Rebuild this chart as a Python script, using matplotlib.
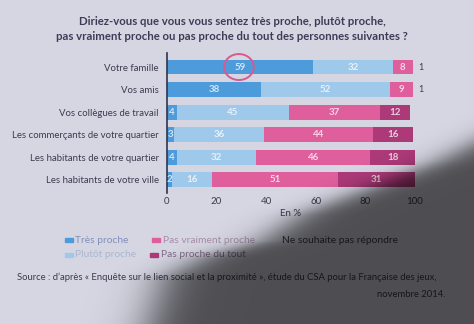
import numpy as np
import matplotlib.pyplot as plt
from matplotlib.patches import Ellipse

plt.rcParams['font.family'] = ['Lato', 'DejaVu Sans']

# survey answers, in %
groups = ['Votre famille', 'Vos amis', 'Vos collègues de travail',
          'Les commerçants de votre quartier', 'Les habitants de votre quartier',
          'Les habitants de votre ville']
tres_proche = [59, 38, 4, 3, 4, 2]
plutot_proche = [32, 52, 45, 36, 32, 16]
pas_vraiment = [8, 9, 37, 44, 46, 51]
pas_du_tout = [0, 0, 12, 16, 18, 31]
ne_repond_pas = [1, 1, 0, 0, 0, 0]

series = [tres_proche, plutot_proche, pas_vraiment, pas_du_tout]
names = ['Très proche', 'Plutôt proche', 'Pas vraiment proche', 'Pas proche du tout']
colors = ['#4d9bdb', '#9fc9ea', '#de5f9c', '#ac3a79']
ticks = [0, 20, 40, 60, 80, 100]

bg = '#d6d6e3'
txt = '#3b3b4f'

fig = plt.figure(figsize=(4.74, 3.24), dpi=100, facecolor=bg)
ax = fig.add_axes([0.3523, 0.4043, 0.5232, 0.432], facecolor=bg)

y = list(range(len(groups)))
left = [0] * len(groups)
for vals, name, c in zip(series, names, colors):
    ax.barh(y, vals, left=left, height=0.66, color=c, label=name)
    for i, v in enumerate(vals):
        if v > 0:
            ax.text(left[i] + v / 2, i, str(v), ha='center', va='center',
                    color='white', fontsize=7, fontweight='bold', alpha=0.75)
    left = [l + v for l, v in zip(left, vals)]

# non-response shown outside the bar
for i, v in enumerate(ne_repond_pas):
    if v > 0:
        ax.text(left[i] + 2.5, i, str(v), ha='left', va='center', color=txt, fontsize=6.5)

# circle around the family value
ax.add_patch(Ellipse((tres_proche[0] / 2 - 0.5, 0), 12, 1.15, fill=False,
                     edgecolor='#d65a8e', linewidth=1.4, clip_on=False))

ax.set_xlim(0, 100)
ax.set_ylim(5.58, -0.62)
ax.set_yticks(y)
ax.set_yticklabels(groups, fontsize=6.9, color=txt)
ax.set_xticks(ticks)
ax.set_xticklabels([str(t) for t in ticks], fontsize=7, color=txt)
ax.tick_params(length=0, pad=3)
ax.tick_params(axis='y', pad=6)
for s in ['top', 'right', 'bottom']:
    ax.spines[s].set_visible(False)
ax.spines['left'].set_color('#2e3550')
ax.spines['left'].set_linewidth(1.2)
ax.set_xlabel('En %', fontsize=7, color=txt, labelpad=2)

fig.text(0.49, 0.95, 'Diriez-vous que vous vous sentez très proche, plutôt proche,\n'
         'pas vraiment proche ou pas proche du tout des personnes suivantes ?',
         ha='center', va='top', fontsize=8.2, fontweight='bold', color='#3c3c58',
         linespacing=1.4)

# legend
leg_text = ['#8290b8', '#a9b6cf', '#a68ca8', '#806a88']
leg = [(0.137, 0.259, 0), (0.321, 0.259, 2), (0.137, 0.213, 1), (0.317, 0.213, 3)]
for lx, ly, k in leg:
    fig.patches.append(plt.Rectangle((lx, ly - 0.007), 0.016, 0.014, color=colors[k],
                                     transform=fig.transFigure, figure=fig))
    fig.text(lx + 0.022, ly, names[k], va='center', fontsize=7.4, color=leg_text[k])
fig.text(0.595, 0.259, 'Ne souhaite pas répondre', va='center', fontsize=7.4, color=txt)

fig.text(0.036, 0.145, 'Source : d’après « Enquête sur le lien social et la proximité », '
         'étude du CSA pour la Française des jeux,', va='center', fontsize=6.8, color=txt)
fig.text(0.94, 0.09, 'novembre 2014.', ha='right', va='center', fontsize=6.8, color=txt)

# photo shadow over the lower right part
H, W = 324, 474
yy, xx = np.mgrid[0:H, 0:W]
edge = np.interp(yy, [110, 160, 195, 215, 240, 258, 280, 324],
                 [540, 440, 350, 300, 262, 200, 162, 148])
shade = 0.64 / (1 + np.exp(-(xx - edge) / 14))
overlay = np.zeros((H, W, 4))
overlay[..., 3] = shade
sax = fig.add_axes([0, 0, 1, 1], zorder=10)
sax.imshow(overlay, aspect='auto', interpolation='bilinear')
sax.axis('off')

fig.savefig('out.png', dpi=100, facecolor=bg)
